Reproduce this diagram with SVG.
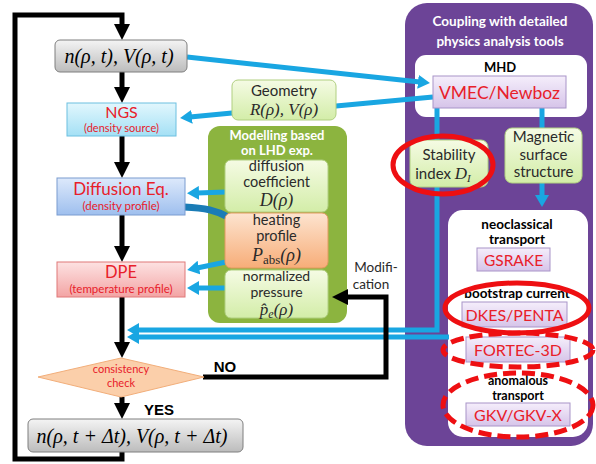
<svg xmlns="http://www.w3.org/2000/svg" width="596" height="464" viewBox="0 0 596 464">
<defs>
<linearGradient id="gGray" x1="0" y1="0" x2="0" y2="1"><stop offset="0" stop-color="#f4f4f4"/><stop offset="1" stop-color="#bcbcbc"/></linearGradient>
<linearGradient id="gCyan" x1="0" y1="0" x2="0" y2="1"><stop offset="0" stop-color="#e2f7fd"/><stop offset="1" stop-color="#a4e0f5"/></linearGradient>
<linearGradient id="gBlue" x1="0" y1="0" x2="0" y2="1"><stop offset="0" stop-color="#dde9fb"/><stop offset="1" stop-color="#9ebfee"/></linearGradient>
<linearGradient id="gRed" x1="0" y1="0" x2="0" y2="1"><stop offset="0" stop-color="#fde2e2"/><stop offset="1" stop-color="#f3a4a4"/></linearGradient>
<linearGradient id="gGreen" x1="0" y1="0" x2="0" y2="1"><stop offset="0" stop-color="#f5fbe4"/><stop offset="1" stop-color="#d3eda8"/></linearGradient>
<linearGradient id="gOrange" x1="0" y1="0" x2="0" y2="1"><stop offset="0" stop-color="#fde4d0"/><stop offset="1" stop-color="#f7ad78"/></linearGradient>
<linearGradient id="gLav" x1="0" y1="0" x2="0" y2="1"><stop offset="0" stop-color="#f5eefb"/><stop offset="1" stop-color="#d6c4e9"/></linearGradient>
<marker id="ak" viewBox="0 0 16 16" markerWidth="16" markerHeight="16" markerUnits="userSpaceOnUse" refX="2" refY="8" orient="auto"><path d="M0,0 L16,8 L0,16 z" fill="#000"/></marker>
<marker id="ab" viewBox="0 0 14 14" markerWidth="14" markerHeight="14" markerUnits="userSpaceOnUse" refX="2" refY="7" orient="auto"><path d="M0,0 L12,7 L0,14 z" fill="#19a6e2"/></marker>
</defs>
<style>
.blk{fill:none;stroke:#000;stroke-width:5;stroke-linejoin:miter}
.blu{fill:none;stroke:#19a6e2;stroke-width:5}
.sans{font-family:Lato,"Open Sans","Liberation Sans",sans-serif}
.math{font-family:"Liberation Serif","DejaVu Serif",serif;font-style:italic}
.red{fill:#e8202a}
.dk{fill:#2a2a2a}
.wb{fill:#fff;font-weight:bold}
.bb{fill:#000;font-weight:bold}
.ell{fill:none;stroke:#ee0f12;stroke-width:5}
.dash{stroke-dasharray:13 6}
text{text-anchor:middle}
</style>

<g id="containers">
<rect id="coupling-panel" x="405" y="3" width="188" height="443" rx="22" fill="#6c4497"/>
<rect id="mhd-panel" x="415" y="55" width="172" height="62" rx="11" fill="#fff"/>
<rect id="neo-panel" x="448" y="210" width="140" height="227" rx="15" fill="#fff"/>
<rect id="lhd-panel" x="208" y="126" width="139" height="197" rx="12" fill="#8cb43f"/>
</g>

<g id="connectors">
<path class="blk" d="M122,452 V459 H15 V15 H122 V26" marker-end="url(#ak)"/>
<path class="blk" d="M122,72 V89" marker-end="url(#ak)"/>
<path class="blk" d="M122,136 V164" marker-end="url(#ak)"/>
<path class="blk" d="M122,215 V248" marker-end="url(#ak)"/>
<path class="blk" d="M122,297 V344" marker-end="url(#ak)"/>
<path class="blk" d="M122,397 V405" marker-end="url(#ak)"/>
<path class="blu" d="M187,57 L420,82" marker-end="url(#ab)"/>
<path class="blu" d="M433,97 L336,106 L232,113 L190,117" marker-end="url(#ab)"/>
<path class="blu" d="M226,192 L197,193" marker-end="url(#ab)"/>
<path d="M184,207 C205,208 216,210 230,218" fill="none" stroke="#1a7cb6" stroke-width="7"/>
<path class="blu" d="M226,262 L197,268" marker-end="url(#ab)"/>
<path class="blu" d="M226,288 L197,288" marker-end="url(#ab)"/>
<path class="blu" d="M437,108 V330 H137" marker-end="url(#ab)"/>
<path class="blu" d="M449,337 H137" marker-end="url(#ab)"/>
<path class="blu" d="M542,108 V128"/>
<path class="blu" d="M542,183 V197" marker-end="url(#ab)"/>
<path class="blk" d="M203,377 H386 V297 H346" marker-end="url(#ak)"/>
</g>

<g id="n-t">
<rect x="55" y="40" width="132" height="32" rx="5" fill="url(#gGray)" stroke="#7f7f7f"/>
<text class="math" x="119" y="63" font-size="20">n(ρ, t), V(ρ, t)</text>
</g>
<g id="ngs">
<rect x="67" y="103" width="109" height="33" fill="url(#gCyan)" stroke="#6cc0e0"/>
<text class="sans red" x="121.5" y="118" font-size="16">NGS</text>
<text class="sans red" x="121.5" y="131.5" font-size="11">(density source)</text>
</g>
<g id="diffusion-eq">
<rect x="57" y="178" width="128" height="37" fill="url(#gBlue)" stroke="#7a9cd0"/>
<text class="sans red" x="121" y="195" font-size="17">Diffusion Eq.</text>
<text class="sans red" x="121" y="210" font-size="11.5">(density profile)</text>
</g>
<g id="dpe">
<rect x="57" y="262" width="128" height="35" fill="url(#gRed)" stroke="#e07878"/>
<text class="sans red" x="121" y="278" font-size="16.5">DPE</text>
<text class="sans red" x="121" y="292.5" font-size="11.5">(temperature profile)</text>
</g>
<g id="consistency-check">
<path d="M38,377 L121,358 L204,377 L121,397 z" fill="#fbcfaa" stroke="#f2ae7a"/>
<text class="sans red" x="121" y="373" font-size="11">consistency</text>
<text class="sans red" x="121" y="387" font-size="11">check</text>
</g>
<g id="n-t-dt">
<rect x="28" y="419" width="215" height="33" rx="5" fill="url(#gGray)" stroke="#7f7f7f"/>
<text class="math" x="132" y="443" font-size="20">n(ρ, t + Δt), V(ρ, t + Δt)</text>
</g>
<g id="labels">
<text x="225" y="372" font-family="'Liberation Sans',Arial,sans-serif" font-weight="bold" font-size="15">NO</text>
<text x="159" y="415" font-family="'Liberation Sans',Arial,sans-serif" font-weight="bold" font-size="15">YES</text>
<text class="sans dk" x="376" y="272" font-size="13.5">Modifi-</text>
<text class="sans dk" x="371" y="289" font-size="13.5">cation</text>
</g>

<g id="geometry">
<rect x="232" y="80" width="104" height="40" rx="6" fill="url(#gGreen)" stroke="#b0cf80"/>
<text class="sans dk" x="284" y="96" font-size="15">Geometry</text>
<text class="math dk" x="284" y="115" font-size="17">R(ρ), V(ρ)</text>
</g>
<g id="lhd-title">
<text class="sans wb" x="277" y="140" font-size="13">Modelling based</text>
<text class="sans wb" x="277" y="155" font-size="13">on LHD exp.</text>
</g>
<g id="diffusion-coefficient">
<rect x="225" y="160" width="103" height="52" rx="6" fill="url(#gGreen)" stroke="#b0cf80"/>
<text class="sans dk" x="276.5" y="171" font-size="14.5">diffusion</text>
<text class="sans dk" x="276.5" y="187" font-size="14.5">coefficient</text>
<text class="math dk" x="276.5" y="206" font-size="18">D(ρ)</text>
</g>
<g id="heating-profile">
<rect x="225" y="213" width="103" height="55" rx="6" fill="url(#gOrange)" stroke="#e39a60"/>
<text class="sans dk" x="276.5" y="225" font-size="14.5">heating</text>
<text class="sans dk" x="276.5" y="241" font-size="14.5">profile</text>
<text class="math dk" x="276.5" y="261" font-size="18">P<tspan font-style="normal" font-size="13" dy="3">abs</tspan><tspan dy="-3">(ρ)</tspan></text>
</g>
<g id="normalized-pressure">
<rect x="225" y="270" width="103" height="48" rx="6" fill="url(#gGreen)" stroke="#b0cf80"/>
<text class="sans dk" x="276.5" y="280.5" font-size="14">normalized</text>
<text class="sans dk" x="276.5" y="297" font-size="14">pressure</text>
<text class="math dk" x="276.5" y="315" font-size="17">p̂<tspan font-size="12" dy="3">e</tspan><tspan dy="-3">(ρ)</tspan></text>
</g>

<g id="coupling-title">
<text class="sans wb" x="500" y="26" font-size="13.5">Coupling with detailed</text>
<text class="sans wb" x="500" y="46" font-size="13.5">physics analysis tools</text>
<text class="sans bb" x="500" y="72" font-size="13">MHD</text>
</g>
<g id="vmec">
<rect x="433" y="76" width="133" height="32" fill="url(#gLav)" stroke="#a894c8"/>
<text class="sans red" x="499.5" y="99" font-size="17.5">VMEC/Newboz</text>
</g>
<g id="stability">
<rect x="410" y="140" width="78" height="47" rx="7" fill="url(#gGreen)" stroke="#b0cf80"/>
<text class="sans dk" x="449" y="160" font-size="15">Stability</text>
<text class="sans dk" x="443" y="179" font-size="15">index <tspan class="math" font-size="17">D</tspan><tspan class="math" font-size="11" dy="3">I</tspan></text>
</g>
<g id="magnetic">
<rect x="505" y="128" width="77" height="55" rx="7" fill="url(#gGreen)" stroke="#b0cf80"/>
<text class="sans dk" x="543.5" y="142" font-size="15">Magnetic</text>
<text class="sans dk" x="543.5" y="159.5" font-size="15">surface</text>
<text class="sans dk" x="543.5" y="177" font-size="15">structure</text>
</g>
<g id="neo-title">
<text class="sans bb" x="517" y="229" font-size="13.5">neoclassical</text>
<text class="sans bb" x="517" y="244" font-size="13.5">transport</text>
</g>
<g id="gsrake">
<rect x="477" y="248" width="73" height="23" fill="url(#gLav)" stroke="#a894c8"/>
<text class="sans red" x="513.5" y="266" font-size="15.5">GSRAKE</text>
</g>
<g id="bootstrap">
<text class="sans bb" x="517" y="298" font-size="13.5">bootstrap current</text>
</g>
<g id="dkes">
<rect x="462" y="302" width="105" height="25" fill="url(#gLav)" stroke="#a894c8"/>
<text class="sans red" x="514.5" y="321" font-size="16">DKES/PENTA</text>
</g>
<g id="fortec">
<rect x="466" y="337" width="104" height="25" fill="url(#gLav)" stroke="#a894c8"/>
<text class="sans red" x="518" y="356" font-size="16">FORTEC-3D</text>
</g>
<g id="anomalous-title">
<text class="sans bb" x="518" y="385" font-size="12.5">anomalous</text>
<text class="sans bb" x="518" y="400" font-size="12.5">transport</text>
</g>
<g id="gkv">
<rect x="466" y="403" width="104" height="23" fill="url(#gLav)" stroke="#a894c8"/>
<text class="sans red" x="518" y="421" font-size="16">GKV/GKV-X</text>
</g>

<g id="highlights">
<ellipse class="ell" cx="443" cy="165" rx="50" ry="29"/>
<ellipse class="ell" cx="517" cy="308" rx="72" ry="25"/>
<ellipse class="ell dash" cx="518" cy="350" rx="75" ry="17"/>
<ellipse class="ell dash" cx="518" cy="405" rx="75" ry="32"/>
</g>
</svg>
